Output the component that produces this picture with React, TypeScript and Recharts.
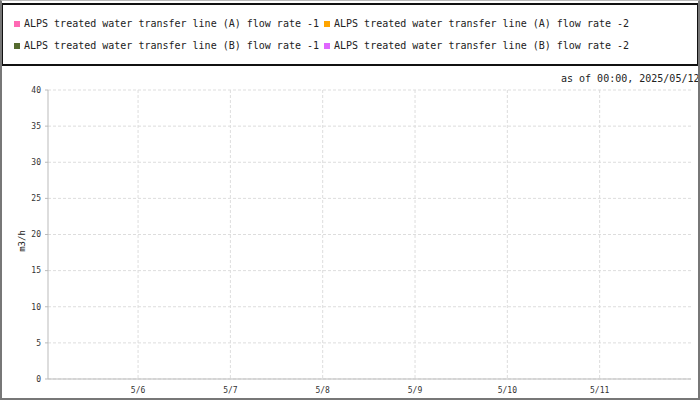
import { LineChart, Line, XAxis, YAxis, CartesianGrid } from 'recharts';

// series shown in the legend (no readings in this window)
const SERIES_NAMES = [
  'ALPS treated water transfer line (A) flow rate -1',
  'ALPS treated water transfer line (A) flow rate -2',
  'ALPS treated water transfer line (B) flow rate -1',
  'ALPS treated water transfer line (B) flow rate -2',
];
const SERIES_COLORS = ['#ff69b4', '#ffa500', '#556b2f', '#e066ff'];

// sample times (UTC) and readings - every reading is missing
const SAMPLE_TIMES = [
  Date.UTC(2025, 4, 5, 0, 35),
  Date.UTC(2025, 4, 6),
  Date.UTC(2025, 4, 7),
  Date.UTC(2025, 4, 8),
  Date.UTC(2025, 4, 9),
  Date.UTC(2025, 4, 10),
  Date.UTC(2025, 4, 11),
  Date.UTC(2025, 4, 11, 23, 45),
];
const FLOW_A1: (number | null)[] = [null, null, null, null, null, null, null, null];
const FLOW_A2: (number | null)[] = [null, null, null, null, null, null, null, null];
const FLOW_B1: (number | null)[] = [null, null, null, null, null, null, null, null];
const FLOW_B2: (number | null)[] = [null, null, null, null, null, null, null, null];

const X_TICKS = [
  Date.UTC(2025, 4, 6),
  Date.UTC(2025, 4, 7),
  Date.UTC(2025, 4, 8),
  Date.UTC(2025, 4, 9),
  Date.UTC(2025, 4, 10),
  Date.UTC(2025, 4, 11),
];
const Y_TICKS = [0, 5, 10, 15, 20, 25, 30, 35, 40];

const AS_OF = 'as of 00:00, 2025/05/12';
const Y_UNIT = 'm3/h';

const FONT = '"DejaVu Sans Mono", monospace';

const SERIES_VALUES = [FLOW_A1, FLOW_A2, FLOW_B1, FLOW_B2];
const chartData = SAMPLE_TIMES.map((t, i) => {
  const row: Record<string, number | null> = { t };
  SERIES_NAMES.forEach((name, s) => {
    row[name] = SERIES_VALUES[s][i];
  });
  return row;
});

function formatDay(value: number) {
  const d = new Date(value);
  return `${d.getUTCMonth() + 1}/${d.getUTCDate()}`;
}

function renderYLabel() {
  return (
    <text
      x={22}
      y={241}
      transform="rotate(-90 22 241)"
      textAnchor="middle"
      dominantBaseline="central"
      fontSize={9}
      fontFamily={FONT}
      fill="#222"
    >
      {Y_UNIT}
    </text>
  );
}

export default function App() {
  return (
    <div
      style={{
        position: 'fixed',
        left: 0,
        top: 0,
        width: 700,
        height: 400,
        overflow: 'hidden',
        background: '#fff',
        fontFamily: FONT,
      }}
    >
      <LineChart
        width={700}
        height={400}
        data={chartData}
        margin={{ top: 90, right: 9, bottom: 6, left: 0 }}
      >
        <CartesianGrid
          stroke="#ddd"
          strokeDasharray="3 2"
          verticalValues={X_TICKS}
          horizontalValues={Y_TICKS}
        />
        <XAxis
          dataKey="t"
          type="number"
          scale="time"
          domain={[SAMPLE_TIMES[0], SAMPLE_TIMES[SAMPLE_TIMES.length - 1]]}
          ticks={X_TICKS}
          tickFormatter={formatDay}
          height={15}
          tickLine={false}
          axisLine={{ stroke: '#bbb' }}
          tick={{ fontSize: 8, fill: '#333', fontFamily: FONT }}
          allowDataOverflow
        />
        <YAxis
          type="number"
          domain={[0, 40]}
          ticks={Y_TICKS}
          width={48}
          tickSize={3}
          tickMargin={4}
          axisLine={{ stroke: '#bbb' }}
          tickLine={{ stroke: '#bbb' }}
          tick={{ fontSize: 8, fill: '#333', fontFamily: FONT }}
          label={renderYLabel}
          allowDataOverflow
        />
        {SERIES_NAMES.map((name, i) => (
          <Line
            key={name}
            dataKey={name}
            stroke={SERIES_COLORS[i]}
            dot={false}
            isAnimationActive={false}
          />
        ))}
      </LineChart>

      {/* legend box */}
      <div
        style={{
          position: 'absolute',
          left: 1,
          top: 3,
          width: 698,
          height: 63,
          boxSizing: 'border-box',
          border: '2px solid #111',
          paddingLeft: 11,
          paddingTop: 8,
          display: 'flex',
          flexWrap: 'wrap',
          alignContent: 'flex-start',
        }}
      >
        {SERIES_NAMES.map((name, i) => (
          <div
            key={name}
            style={{
              display: 'flex',
              alignItems: 'center',
              height: 22,
              marginRight: 5,
              flexShrink: 0,
            }}
          >
            <span
              style={{
                display: 'inline-block',
                width: 6,
                height: 6,
                flexShrink: 0,
                background: SERIES_COLORS[i],
                marginRight: 4,
              }}
            />
            <span
              style={{
                fontSize: 10,
                lineHeight: '22px',
                color: '#222',
                whiteSpace: 'nowrap',
              }}
            >
              {name}
            </span>
          </div>
        ))}
      </div>

      <div
        style={{
          position: 'absolute',
          left: 561,
          top: 68,
          fontSize: 10,
          lineHeight: '22px',
          color: '#222',
          whiteSpace: 'nowrap',
        }}
      >
        {AS_OF}
      </div>

      {/* outer frame */}
      <div
        style={{
          position: 'absolute',
          inset: 0,
          boxSizing: 'border-box',
          borderTop: '1px solid #bbb',
          borderLeft: '2px solid #777',
          borderRight: '2px solid #777',
          borderBottom: '2px solid #777',
          pointerEvents: 'none',
        }}
      />
    </div>
  );
}
